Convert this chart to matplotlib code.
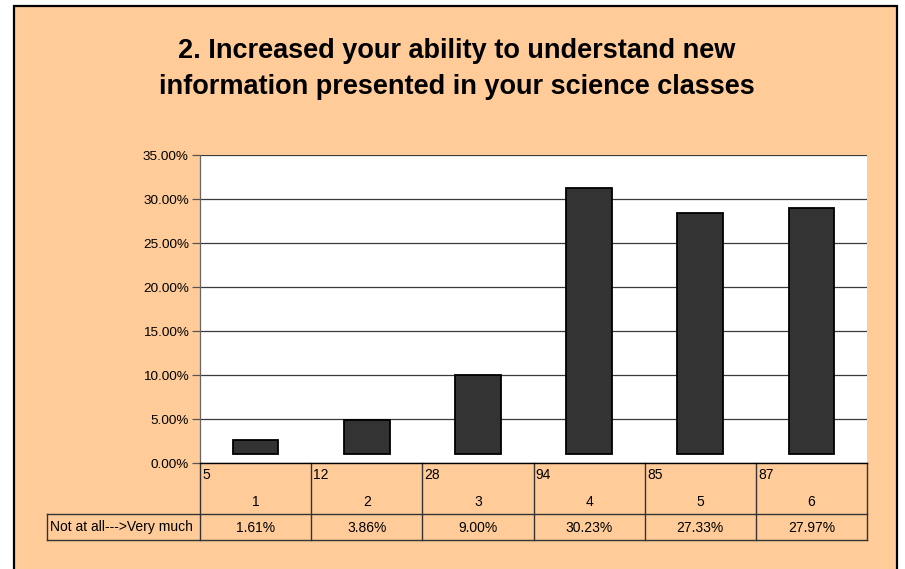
import matplotlib
matplotlib.use("Agg")
import matplotlib.pyplot as plt
from matplotlib.patches import Rectangle
from matplotlib.lines import Line2D
import matplotlib.transforms as mtransforms

categories = ["1", "2", "3", "4", "5", "6"]
counts = [5, 12, 28, 94, 85, 87]
percents = [1.61, 3.86, 9.00, 30.23, 27.33, 27.97]
row_label = "Not at all--->Very much"
title_lines = ["2. Increased your ability to understand new",
               "information presented in your science classes"]
yticks = [0, 5, 10, 15, 20, 25, 30, 35]
bar_base = 1.05

W, H = 905, 569
PEACH = "#FFCC99"
plt.rcParams['font.family'] = ['Liberation Sans', 'DejaVu Sans']

fig = plt.figure(figsize=(W / 100, H / 100), dpi=100)
fig.patch.set_facecolor("white")

def fx(px):
    return px / W

def fy(py):
    return 1 - py / H

# outer chart frame
fig.patches.append(Rectangle((fx(14), fy(575)), fx(897) - fx(14), fy(6) - fy(575),
                             transform=fig.transFigure, facecolor=PEACH,
                             edgecolor="black", linewidth=1.6, zorder=0))

L, R, T, B = 200, 867, 155, 463
ax = fig.add_axes([fx(L), fy(B), fx(R) - fx(L), fy(T) - fy(B)])
ax.set_facecolor("white")
ax.set_zorder(2)

x = list(range(len(categories)))
ax.bar(x, percents, bottom=bar_base, width=0.41, color="#333333",
       edgecolor="black", linewidth=1.3, zorder=3)

ax.set_xlim(-0.5, len(categories) - 0.5)
ax.set_ylim(0, 35)
ax.set_yticks(yticks)
ax.set_yticklabels([f"{v:.2f}%" for v in yticks], fontsize=9.7)
ax.yaxis.grid(True, color="#3a3a3a", linewidth=0.9)
ax.set_axisbelow(True)
ax.tick_params(axis="y", length=6, width=0.9, color="#555555", pad=2)
ax.set_xticks([])
for s in ["top", "right"]:
    ax.spines[s].set_visible(False)
ax.spines["left"].set_color("#666666")
ax.spines["left"].set_linewidth(0.9)
ax.spines["bottom"].set_color("black")
ax.spines["bottom"].set_linewidth(1.0)

# data table below the plot
blend = mtransforms.blended_transform_factory(ax.transData, ax.transAxes)
axh = B - T
def ay(py):
    return (B - py) / axh

r1, r2 = 514, 540
lc = "#333333"
n = len(categories)
for i in range(n + 1):
    ax.add_line(Line2D([i - 0.5, i - 0.5], [0, ay(r2)], transform=blend,
                       color=lc, linewidth=1.0, clip_on=False))
ax.add_line(Line2D([fx(47), fx(R)], [fy(r1), fy(r1)], transform=fig.transFigure,
                   color=lc, linewidth=1.0, clip_on=False))
ax.add_line(Line2D([fx(47), fx(R)], [fy(r2), fy(r2)], transform=fig.transFigure,
                   color=lc, linewidth=1.0, clip_on=False))
ax.add_line(Line2D([fx(47), fx(47)], [fy(r1), fy(r2)], transform=fig.transFigure,
                   color=lc, linewidth=1.0, clip_on=False))

for i in range(n):
    ax.text(i - 0.5 + 0.02, ay(475), str(counts[i]), transform=blend,
            ha="left", va="center", fontsize=10)
    ax.text(i, ay(502), categories[i], transform=blend,
            ha="center", va="center", fontsize=10)
    ax.text(i, ay(527.5), f"{percents[i]:.2f}%", transform=blend,
            ha="center", va="center", fontsize=10)

fig.text(fx(50), fy(527.5), row_label, ha="left", va="center", fontsize=10)

fig.text(fx(457), fy(51), title_lines[0], ha="center", va="center", fontsize=19.5,
         fontweight="bold")
fig.text(fx(457), fy(87), title_lines[1], ha="center", va="center", fontsize=19.5,
         fontweight="bold")

fig.savefig("out.png", dpi=100, facecolor=fig.get_facecolor())
